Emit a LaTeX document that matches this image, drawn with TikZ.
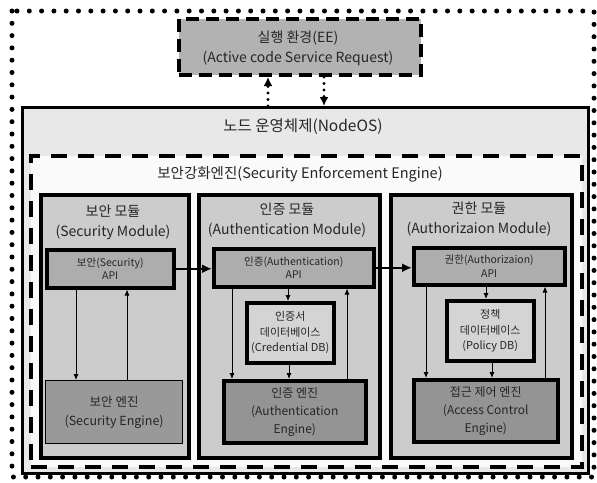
\documentclass[tikz,border=0pt]{standalone}
\usepackage{fontspec}
\setmainfont{Noto Sans CJK KR}
\usetikzlibrary{arrows.meta}
\tikzset{
  bx/.style={anchor=north west, inner sep=0pt, align=center, text=black!85},
  outerdots/.style={line width=5pt, line cap=round, dash pattern=on 0pt off 12.3pt},
  eebox/.style={bx, draw, line width=4pt, dash pattern=on 13pt off 7pt, fill=black!30},
  osbox/.style={bx, draw, line width=3pt, fill=black!9},
  seebox/.style={bx, draw, line width=3.5pt, dash pattern=on 16pt off 11pt, fill=black!2},
  modbox/.style={bx, draw, line width=3.5pt, fill=black!20},
  apibox/.style={bx, draw, line width=3.5pt, fill=black!32, font=\fontsize{10.5}{13.5}\selectfont},
  dbbox/.style={bx, draw, line width=3.5pt, fill=black!17, font=\fontsize{11}{15.5}\selectfont},
  engbox/.style={bx, draw, line width=3.5pt, fill=black!42, font=\fontsize{12}{18}\selectfont},
  sengbox/.style={bx, draw, line width=1.2pt, fill=black!40, font=\fontsize{12.5}{19}\selectfont},
  ttl/.style={inner sep=0pt, align=center, text=black!85, font=\fontsize{14}{20}\selectfont},
  arr/.style={line width=0.9pt, -{Latex[length=6pt,width=5pt]}},
  bigarr/.style={line width=2.5pt, -{Latex[length=10pt,width=9pt]}},
  dotarr/.style={line width=3.2pt, line cap=round, dash pattern=on 0pt off 6.5pt, -{Latex[length=9pt,width=9pt]}},
}
\begin{document}
\begin{tikzpicture}[x=1pt,y=-1pt]
\useasboundingbox (0,0) rectangle (597,482);
\fill[white] (0,0) rectangle (597,482);
% outer dotted frame
\draw[outerdots] (12,11) rectangle (594,477);
% execution environment
\node[eebox, minimum width=242pt, minimum height=56pt] (ee) at (177,17) {};
\node[ttl] (eetxt) at (298,48.5) {실행 환경(EE)\\(Active code Service Request)};
% NodeOS
\node[osbox, minimum width=566pt, minimum height=366pt] (os) at (21,106) {};
\node[ttl, font=\fontsize{15.5}{20}\selectfont] (ostxt) at (303,127) {노드 운영체제(NodeOS)};
% dotted arrows between EE and NodeOS
\draw[dotarr] ([xshift=-32pt]ee.south |- os.north) -- ([xshift=-32pt]ee.south);
\draw[dotarr] ([xshift=24pt]ee.south) -- ([xshift=24pt]ee.south |- os.north);
% Security Enforcement Engine
\node[seebox, minimum width=551pt, minimum height=311pt] (see) at (29,154) {};
\node[ttl, font=\fontsize{14.5}{20}\selectfont] (seetxt) at (300,174) {보안강화엔진(Security Enforcement Engine)};
% modules
\node[modbox, minimum width=148pt, minimum height=263pt] (secmod) at (39,193) {};
\node[modbox, minimum width=181pt, minimum height=263pt] (authmod) at (197,193) {};
\node[modbox, minimum width=181pt, minimum height=263pt] (azmod) at (389,193) {};
\node[ttl] (sectxt) at (113,222) {보안 모듈\\(Security Module)};
\node[ttl] (authtxt) at (287,220) {인증 모듈\\(Authentication Module)};
\node[ttl] (aztxt) at (479,219) {권한 모듈\\(Authorizaion Module)};
% APIs
\node[apibox, minimum width=127pt, minimum height=38pt] (secapi) at (45,248) {보안(Security)\\API};
\node[apibox, minimum width=160pt, minimum height=38pt] (authapi) at (212,247) {인증(Authentication)\\API};
\node[apibox, minimum width=151pt, minimum height=37pt] (azapi) at (412,246) {권한(Authorizaion)\\API};
% databases
\node[dbbox, minimum width=87pt, minimum height=60pt] (creddb) at (245,301) {인증서\\데이터베이스\\(Credential DB)};
\node[dbbox, minimum width=87pt, minimum height=60pt] (poldb) at (445,299) {정책\\데이터베이스\\(Policy DB)};
% engines
\node[sengbox, minimum width=137pt, minimum height=63pt] (seceng) at (45,380) {보안 엔진\\(Security Engine)};
\node[engbox, minimum width=142pt, minimum height=62pt] (autheng) at (222,379) {인증 엔진\\(Authentication\\Engine)};
\node[engbox, minimum width=144pt, minimum height=62pt] (aceng) at (412,378) {접근 제어 엔진\\(Access Control\\Engine)};
% inter-module arrows
\draw[bigarr] (secapi.east) -- (secapi.east -| authapi.west);
\draw[bigarr] (authapi.east) -- (authapi.east -| azapi.west);
% security module arrows
\draw[arr] ([xshift=31pt]secapi.south west) -- ([xshift=31pt]secapi.south west |- seceng.north);
\draw[arr] ([xshift=82pt]seceng.north west) -- ([xshift=82pt]seceng.north west |- secapi.south);
% authentication module arrows
\draw[arr] ([xshift=20pt]authapi.south west) -- ([xshift=20pt]authapi.south west |- autheng.north);
\draw[arr] ([xshift=76pt]authapi.south west) -- ([xshift=76pt]authapi.south west |- creddb.north);
\draw[arr] ([xshift=44pt]creddb.south west) -- ([xshift=44pt]creddb.south west |- autheng.north);
\draw[arr] ([xshift=125pt]autheng.north west) -- ([xshift=125pt]autheng.north west |- authapi.south);
% authorization module arrows
\draw[arr] ([xshift=14pt]azapi.south west) -- ([xshift=14pt]azapi.south west |- aceng.north);
\draw[arr] ([xshift=74pt]azapi.south west) -- ([xshift=74pt]azapi.south west |- poldb.north);
\draw[arr] ([xshift=47pt]poldb.south west) -- ([xshift=47pt]poldb.south west |- aceng.north);
\draw[arr] ([xshift=133pt]aceng.north west) -- ([xshift=133pt]aceng.north west |- azapi.south);
\end{tikzpicture}
\end{document}
